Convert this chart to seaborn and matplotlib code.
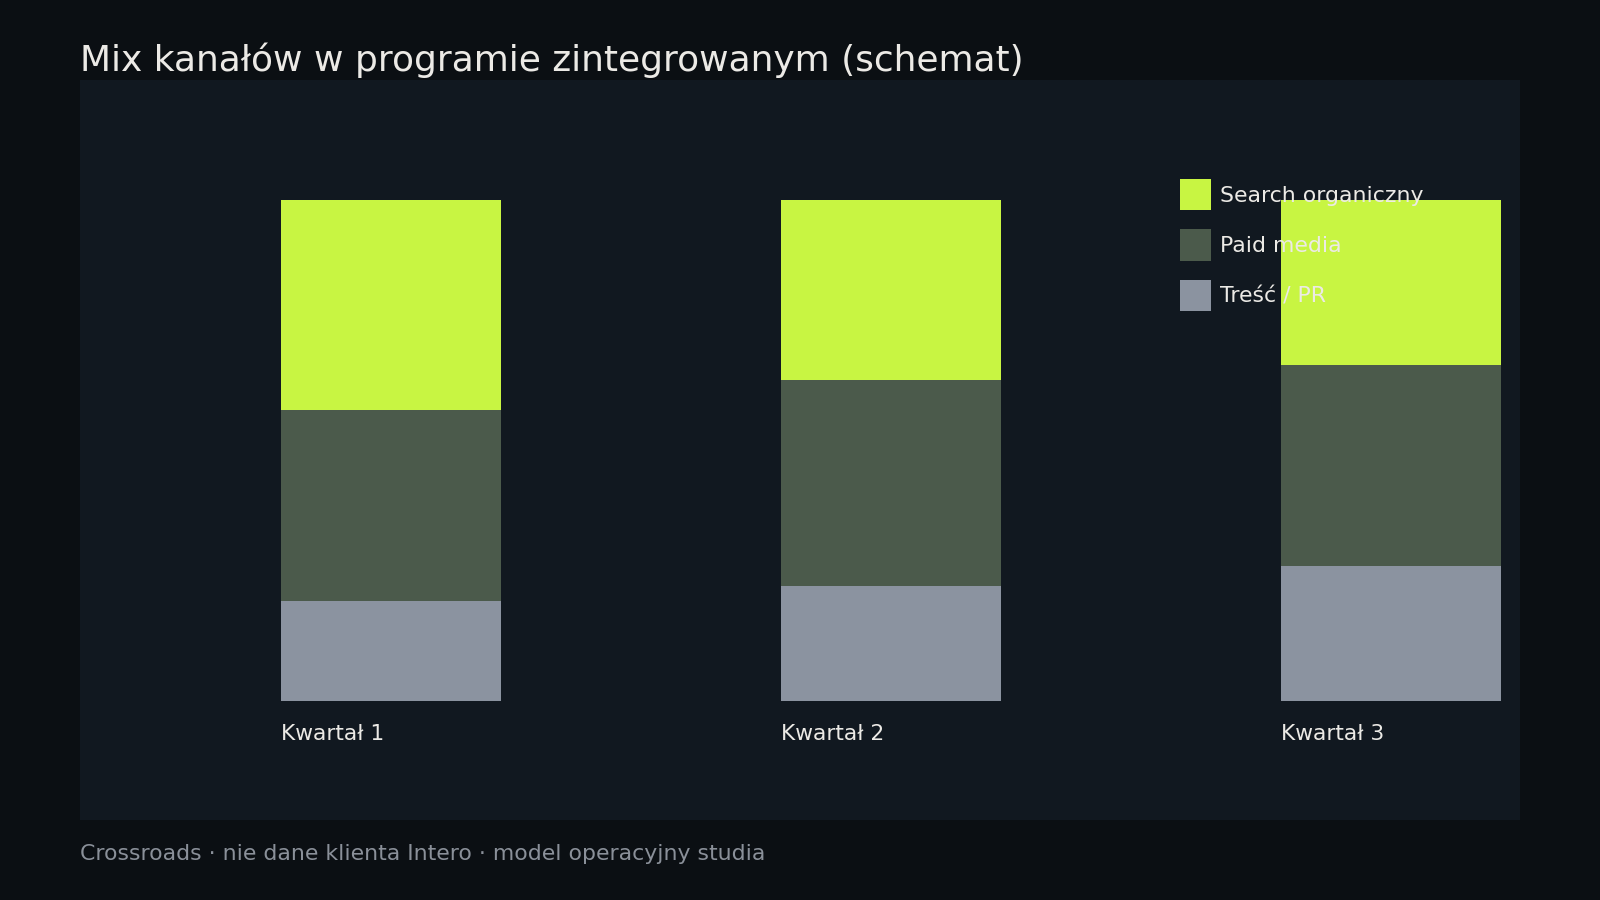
import matplotlib
matplotlib.use("Agg")
import matplotlib.pyplot as plt
from matplotlib.patches import Patch
import seaborn as sns
import pandas as pd
import numpy as np

quarters = ["Kwartał 1", "Kwartał 2", "Kwartał 3"]
series_names = ["Search organiczny", "Paid media", "Treść / PR"]
search = [42, 36, 33]
paid = [38, 41, 40]
content = [20, 23, 27]

colors = {"Search organiczny": "#c8f542", "Paid media": "#4b5a4b", "Treść / PR": "#8b93a0"}
BG = "#0b0f13"
PANEL = "#111820"
TXT = "#eceae6"

sns.set_theme(style="dark")
plt.rcParams["font.family"] = ["DejaVu Sans"]

df = pd.DataFrame({"q": quarters, "search": search, "paid": paid, "content": content})
df["c1"] = df["content"]
df["c2"] = df["content"] + df["paid"]
df["c3"] = df["content"] + df["paid"] + df["search"]

fig = plt.figure(figsize=(16, 9), dpi=100, facecolor=BG)
ax = fig.add_axes([0.0497, 0.0884, 0.9005, 0.8231])
ax.set_facecolor(PANEL)

W = 0.44
sns.barplot(data=df, x="q", y="c3", color=colors["Search organiczny"], width=W, saturation=1, ax=ax, linewidth=0)
sns.barplot(data=df, x="q", y="c2", color=colors["Paid media"], width=W, saturation=1, ax=ax, linewidth=0)
sns.barplot(data=df, x="q", y="c1", color=colors["Treść / PR"], width=W, saturation=1, ax=ax, linewidth=0)

for s in ax.spines.values():
    s.set_visible(False)
ax.spines["bottom"].set_position(("data", 0))

ax.set_xlim(-0.6224, 2.259)
ax.set_ylim(-23.8, 124)
ax.set_xlabel("")
ax.set_ylabel("")
ax.set_yticks([])
ax.set_xticks(np.arange(len(quarters)) - W / 2)
ax.set_xticklabels(quarters, ha="left", color=TXT, fontsize=15.7)
ax.tick_params(axis="x", length=0, pad=16.5, colors=TXT, labelsize=15.7)
ax.grid(False)

handles = [Patch(facecolor=colors[n], edgecolor="none", label=n) for n in series_names]
leg = ax.legend(handles=handles, loc="upper left", bbox_to_anchor=(0.764, 0.866),
                frameon=False, fontsize=15.8, handlelength=1.40, handleheight=1.80,
                handletextpad=0.4, labelspacing=0.89, borderpad=0, borderaxespad=0)
for t in leg.get_texts():
    t.set_color(TXT)

fig.text(0.0497, 0.9215, "Mix kanałów w programie zintegrowanym (schemat)",
         color=TXT, fontsize=25.9, va="baseline", ha="left")
fig.text(0.0497, 0.0442, "Crossroads · nie dane klienta Intero · model operacyjny studia",
         color="#8a9099", fontsize=15.85, va="baseline", ha="left")

fig.savefig("out.png", dpi=100, facecolor=BG)
